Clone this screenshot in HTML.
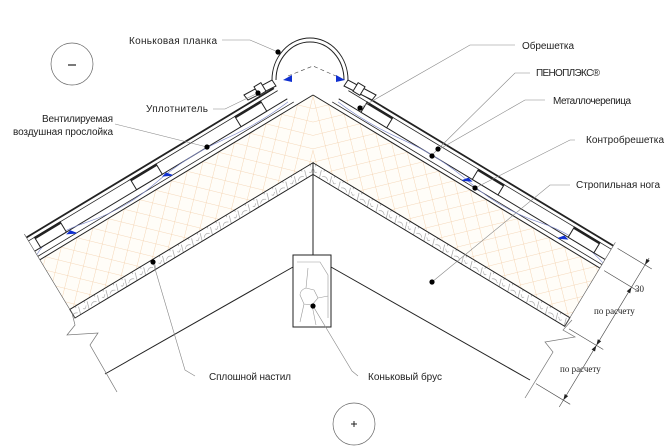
<!DOCTYPE html>
<html><head><meta charset="utf-8"><style>
html,body{margin:0;padding:0;background:#fff;}
svg{display:block;}
text{font-family:"Liberation Sans","DejaVu Sans",sans-serif;font-size:10px;fill:#222;}
.s{font-family:"Liberation Serif",serif;font-size:9px;}
</style></head><body>
<svg width="670" height="446" viewBox="0 0 670 446" xmlns="http://www.w3.org/2000/svg">
<defs>
<pattern id="grid" width="13" height="13" patternUnits="userSpaceOnUse" patternTransform="rotate(45)">
<rect width="13" height="13" fill="#fffdf8"/>
<path d="M0 0H13M0 0V13" stroke="#f2c9a0" stroke-width="0.7" fill="none"/>
</pattern>
<pattern id="deck" width="22" height="10" patternUnits="userSpaceOnUse">
<rect width="22" height="10" fill="#fff"/>
<path d="M2 0L5 10M14 0L17 10M6 5Q10 2 13 6M17 3Q20 7 21 4" stroke="#777" stroke-width="0.5" fill="none"/>
</pattern>
</defs>

<!-- RIGHT slope -->
<g transform="translate(313,95) rotate(31.1)" stroke="#222" fill="none">
<polygon points="0,0 335,0 335,58 35,58" fill="url(#grid)" stroke="none"/>
<line x1="0" y1="0" x2="335" y2="0" stroke-width="1"/>
<polygon points="35,58 335,58 335,68 41,68" fill="url(#deck)" stroke-width="1"/>
<line x1="30" y1="-26" x2="335" y2="-26" stroke-width="1.8"/>
<line x1="28" y1="-22" x2="335" y2="-22" stroke-width="0.8"/>
<line x1="24" y1="-10" x2="335" y2="-10" stroke-width="1"/>
<line x1="20" y1="-4" x2="335" y2="-4" stroke-width="0.8"/>
<path d="M25 -7 Q60 -3 100 -8 T180 -6 T260 -8 T335 -6" stroke="#7a86c8" stroke-width="0.6"/>
<g stroke-width="1">
<rect x="50" y="-22" width="30" height="12" fill="#fff"/><line x1="50" y1="-21" x2="80" y2="-21" stroke-width="2.2"/>
<rect x="180" y="-22" width="30" height="12" fill="#fff"/><line x1="180" y1="-21" x2="210" y2="-21" stroke-width="2.2"/>
<rect x="292" y="-22" width="30" height="12" fill="#fff"/><line x1="292" y1="-21" x2="322" y2="-21" stroke-width="2.2"/>
</g>
<polygon points="180,-8 172,-4 176,-9" fill="#1030d0" stroke="#1030d0"/>
<polygon points="292,-8 284,-4 288,-9" fill="#1030d0" stroke="#1030d0"/>
<line x1="335" y1="-30" x2="335" y2="68" stroke="#555" stroke-width="0.6"/>
<g stroke="#444" stroke-width="0.6">
<line x1="340" y1="-26" x2="380" y2="-26"/>
<line x1="340" y1="0" x2="380" y2="0"/>
<line x1="340" y1="68" x2="380" y2="68"/>
<line x1="340" y1="132" x2="380" y2="132"/>
<line x1="372" y1="-34" x2="372" y2="140"/>
</g>
<g fill="#222" stroke="none">
<polygon points="372,-26 370,-32 374,-32"/><polygon points="372,0 370,6 374,6"/>
<polygon points="372,68 370,62 374,62"/><polygon points="372,68 370,74 374,74"/>
<polygon points="372,132 370,126 374,126"/>
</g>
</g>

<!-- LEFT slope -->
<g transform="translate(313,95) scale(-1,1) rotate(31.1)" stroke="#222" fill="none">
<polygon points="0,0 319,0 319,58 35,58" fill="url(#grid)" stroke="none"/>
<line x1="0" y1="0" x2="319" y2="0" stroke-width="1"/>
<polygon points="35,58 319,58 319,68 41,68" fill="url(#deck)" stroke-width="1"/>
<line x1="30" y1="-26" x2="319" y2="-26" stroke-width="1.8"/>
<line x1="28" y1="-22" x2="319" y2="-22" stroke-width="0.8"/>
<line x1="24" y1="-10" x2="319" y2="-10" stroke-width="1"/>
<line x1="20" y1="-4" x2="319" y2="-4" stroke-width="0.8"/>
<path d="M25 -7 Q60 -3 100 -8 T180 -6 T260 -8 T319 -6" stroke="#7a86c8" stroke-width="0.6"/>
<g stroke-width="1">
<rect x="48" y="-22" width="30" height="12" fill="#fff"/><line x1="48" y1="-21" x2="78" y2="-21" stroke-width="2.2"/>
<rect x="170" y="-22" width="30" height="12" fill="#fff"/><line x1="170" y1="-21" x2="200" y2="-21" stroke-width="2.2"/>
<rect x="282" y="-22" width="30" height="12" fill="#fff"/><line x1="282" y1="-21" x2="312" y2="-21" stroke-width="2.2"/>
</g>
<polygon points="170,-8 162,-4 166,-9" fill="#1030d0" stroke="#1030d0"/>
<polygon points="282,-8 274,-4 278,-9" fill="#1030d0" stroke="#1030d0"/>
<line x1="319" y1="-30" x2="319" y2="68" stroke="#555" stroke-width="0.6"/>
</g>

<!-- rafter & beam -->
<g stroke="#222" fill="none" stroke-width="1">
<line x1="313" y1="173" x2="313" y2="255"/>
<line x1="293" y1="267" x2="105" y2="374"/>
<line x1="331" y1="267" x2="530" y2="380"/>
<rect x="293" y="255" width="38" height="72" fill="#fff"/>
<path d="M297 262 H320 L328 275 V318 M300 295 Q300 290 306 288 L314 290 L318 298 L312 305 L304 304 Z M306 288 L308 268 M318 298 L328 296 M304 304 L300 322 M312 305 L316 325" stroke="#999" stroke-width="0.6"/>
</g>
<g stroke="#777" fill="none" stroke-width="0.7">
<polyline points="72,313 75,325 67,335 98,333 90,345 117,392"/>
<polyline points="572,320 563,330 575,337 545,342 553,352 525,398"/>
</g>

<!-- ridge cap -->
<g stroke="#222" fill="none" stroke-width="1">
<path d="M272 80 A38 42 0 1 1 348 80"/>
<path d="M276 80 A34 38 0 1 1 344 80"/>
<polygon points="244,95 272,80 276,86 248,100" fill="#fff"/>
<polygon points="376,95 348,80 344,86 372,100" fill="#fff"/>
<rect x="256" y="84" width="8" height="10" transform="rotate(-31 260 89)" fill="#fff"/>
<rect x="355" y="84" width="8" height="10" transform="rotate(31 359 89)" fill="#fff"/>
<polyline points="288,76 313,66 336,76" stroke-dasharray="4,3" stroke="#444" stroke-width="0.6"/>
</g>
<polygon points="283,80 292,75 292,82" fill="#1030d0"/>
<polygon points="345,80 336,75 336,82" fill="#1030d0"/>

<!-- circles -->
<circle cx="72" cy="64" r="21" fill="none" stroke="#666" stroke-width="0.7"/>
<line x1="68" y1="65" x2="76" y2="65" stroke="#222" stroke-width="1.2"/>
<circle cx="354" cy="424" r="21" fill="none" stroke="#666" stroke-width="0.7"/>
<path d="M351 424H357M354 421V427" stroke="#222" stroke-width="1"/>

<!-- leaders -->
<g stroke="#888" fill="none" stroke-width="0.6">
<polyline points="222,40 250,40 278,52"/>
<polyline points="213,109 225,109 258,93"/>
<polyline points="115,124 207,147"/>
<polyline points="515,45 470,45 360,108"/>
<polyline points="530,73 515,73 432,155"/>
<polyline points="545,100 525,100 438,150"/>
<polyline points="575,140 570,140 475,188"/>
<polyline points="570,185 550,185 432,282"/>
<polyline points="195,376 185,370 153,262"/>
<polyline points="358,376 352,371 313,306"/>
</g>
<g fill="#000">
<circle cx="278" cy="52" r="2.6"/><circle cx="258" cy="93" r="2.6"/>
<circle cx="207" cy="147" r="2.6"/><circle cx="360" cy="108" r="2.6"/>
<circle cx="432" cy="156" r="2.6"/><circle cx="438" cy="149" r="2.6"/>
<circle cx="475" cy="188" r="2.6"/><circle cx="432" cy="282" r="2.6"/>
<circle cx="153" cy="262" r="2.6"/><circle cx="313" cy="306" r="2.6"/>
</g>

<!-- labels -->
<text x="129" y="44" textLength="88">Коньковая планка</text>
<text x="146" y="112" textLength="62">Уплотнитель</text>
<text x="42" y="122" textLength="71">Вентилируемая</text>
<text x="13" y="135" textLength="100">воздушная прослойка</text>
<text x="522" y="49" textLength="52">Обрешетка</text>
<text x="536" y="76" textLength="64">ПЕНОПЛЭКС®</text>
<text x="553" y="104" textLength="78">Металлочерепица</text>
<text x="586" y="143" textLength="78">Контробрешетка</text>
<text x="576" y="188" textLength="84">Стропильная нога</text>
<text x="209" y="380" textLength="82">Сплошной настил</text>
<text x="368" y="380" textLength="74">Коньковый брус</text>
<text class="s" x="635" y="292" font-size="11">30</text>
<text class="s" x="594" y="314">по расчету</text>
<text class="s" x="560" y="372">по расчету</text>
</svg>
</body></html>
